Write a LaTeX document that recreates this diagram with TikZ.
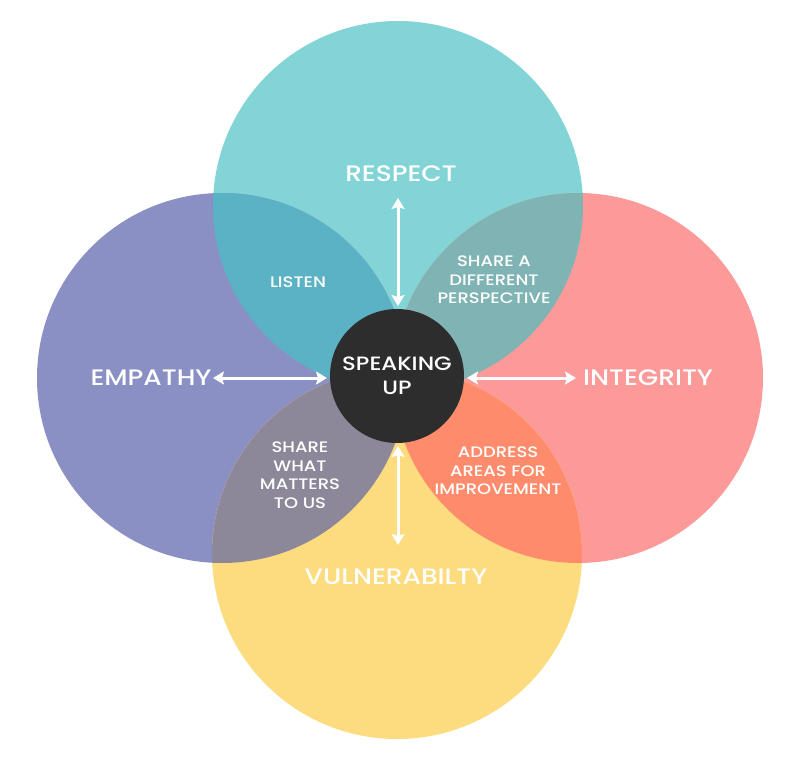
\documentclass[tikz,border=0pt]{standalone}
\usepackage{fontspec}
\setmainfont{Poppins}[UprightFont=* Medium, BoldFont=* SemiBold, FakeStretch=1.18]
\usetikzlibrary{arrows.meta}
\definecolor{cTeal}{HTML}{82D4D6}
\definecolor{cPurple}{HTML}{8B90C4}
\definecolor{cPink}{HTML}{FC9A9A}
\definecolor{cYellow}{HTML}{FDDB7F}
\definecolor{cTL}{HTML}{5BB2C5}
\definecolor{cTR}{HTML}{80B4B4}
\definecolor{cBL}{HTML}{8C889A}
\definecolor{cBR}{HTML}{FE8C6C}
\definecolor{cHub}{HTML}{2D2D2D}
\tikzset{
  mainlabel/.style={text=white, font=\fontsize{22.4}{26}\selectfont, inner sep=0pt},
  lenslabel/.style={text=white, font=\fontsize{15.2}{18.5}\selectfont, align=center, inner sep=0pt},
  hub/.style={circle, fill=cHub, minimum size=134pt, inner sep=0pt, outer sep=3pt, text=white, align=center, font=\fontsize{19.3}{25}\selectfont},
  arr/.style={draw=white, line width=3pt, {Stealth[length=11pt,width=13pt,inset=2pt]}-{Stealth[length=11pt,width=13pt,inset=2pt]}}
}
\begin{document}
\begin{tikzpicture}[x=1pt,y=-1pt]
\useasboundingbox (0,0) rectangle (785,760);
\fill[white] (0,0) rectangle (785,760);
% circles
\coordinate (cT) at (398,206);
\coordinate (cL) at (222,378);
\coordinate (cR) at (578,378);
\coordinate (cB) at (397,554);
\def\rad{185}
\fill[cTeal] (cT) circle[radius=\rad];
\fill[cPurple] (cL) circle[radius=\rad];
\fill[cPink] (cR) circle[radius=\rad];
\fill[cYellow] (cB) circle[radius=\rad];
% lenses
\begin{scope}\clip (cT) circle[radius=\rad]; \fill[cTL] (cL) circle[radius=\rad]; \end{scope}
\begin{scope}\clip (cT) circle[radius=\rad]; \fill[cTR] (cR) circle[radius=\rad]; \end{scope}
\begin{scope}\clip (cB) circle[radius=\rad]; \fill[cBL] (cL) circle[radius=\rad]; \end{scope}
\begin{scope}\clip (cB) circle[radius=\rad]; \fill[cBR] (cR) circle[radius=\rad]; \end{scope}
% hub
\node[hub] (speak) at (397,376) {SPEAKING\\[-1pt]UP};
% labels
\node[mainlabel] (respect) at (401,174) {RESPECT};
\node[mainlabel] (empathy) at (151,378) {EMPATHY};
\node[mainlabel] (integrity) at (648,378) {INTEGRITY};
\node[mainlabel] (vulner) at (396,577) {VULNERABILTY};
\node[lenslabel] (listen) at (298,282) {LISTEN};
\node[lenslabel] (share) at (494,280) {SHARE A\\DIFFERENT\\PERSPECTIVE};
\node[lenslabel] (matters) at (300,475) {SHARE\\WHAT\\MATTERS\\TO US};
\node[lenslabel] (address) at (498,471) {ADDRESS\\AREAS FOR\\IMPROVEMENT};
% arrows
\coordinate (tipT) at (398,198);
\coordinate (tipB) at (398,545);
\coordinate (tipL) at (213,378);
\coordinate (tipR) at (576,378);
\draw[arr] (speak.north -| tipT) -- (tipT);
\draw[arr] (speak.south -| tipB) -- (tipB);
\draw[arr] (speak.west |- tipL) -- (tipL);
\draw[arr] (speak.east |- tipR) -- (tipR);
\end{tikzpicture}
\end{document}
